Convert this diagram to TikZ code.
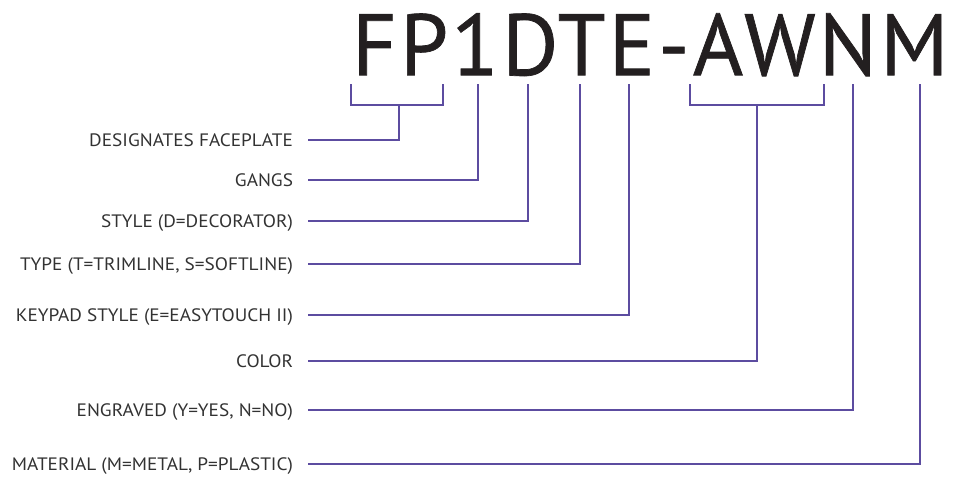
\documentclass[tikz,border=0pt]{standalone}
\usepackage{fontspec}
\setmainfont{PT Sans}
\newfontfamily\bigfont[LetterSpace=4, FakeBold=0.8]{PT Sans}
\newfontfamily\lblfont[FakeStretch=1.07]{PT Sans}
\definecolor{linepurple}{RGB}{92,76,160}
\definecolor{labelgray}{RGB}{50,50,50}
\definecolor{codeblack}{RGB}{35,31,32}
\tikzset{
  lbl/.style={anchor=east, inner sep=0pt, outer xsep=15pt, text=labelgray,
    font=\lblfont\fontsize{18}{20}\selectfont, text height=12.6pt, text depth=0pt},
  conn/.style={draw=linepurple, line width=1.7pt},
}
\begin{document}
\begin{tikzpicture}[x=1pt,y=-1pt]
\useasboundingbox (0,0) rectangle (953,477);
% code
\node[anchor=north west, inner sep=0pt, text=codeblack] (code) at (352,13)
  {\resizebox{596pt}{62pt}{\bigfont FP1DTE-AWNM}};
% labels
\node[lbl] (l1) at (308,140) {DESIGNATES FACEPLATE};
\node[lbl] (l2) at (308,180) {GANGS};
\node[lbl] (l3) at (308,221) {STYLE (D=DECORATOR)};
\node[lbl] (l4) at (308,264) {TYPE (T=TRIMLINE, S=SOFTLINE)};
\node[lbl] (l5) at (308,315) {KEYPAD STYLE (E=EASYTOUCH II)};
\node[lbl] (l6) at (308,361) {COLOR};
\node[lbl] (l7) at (308,410) {ENGRAVED (Y=YES, N=NO)};
\node[lbl] (l8) at (308,464) {MATERIAL (M=METAL, P=PLASTIC)};
% tick tops
\coordinate (tF) at (351,84);
\coordinate (tP) at (443,84);
\coordinate (m1) at (399,105);
\coordinate (t1) at (478,84);
\coordinate (tD) at (528,84);
\coordinate (tT) at (580,84);
\coordinate (tE) at (629,84);
\coordinate (tA) at (690,84);
\coordinate (tW) at (824,84);
\coordinate (m2) at (757,105);
\coordinate (tN) at (853,84);
\coordinate (tM) at (920,84);
% connectors
\draw[conn] (tF) |- (tP |- m1) -- (tP);
\draw[conn] (m1) |- (l1.east);
\draw[conn] (t1) |- (l2.east);
\draw[conn] (tD) |- (l3.east);
\draw[conn] (tT) |- (l4.east);
\draw[conn] (tE) |- (l5.east);
\draw[conn] (tA) |- (tW |- m2) -- (tW);
\draw[conn] (m2) |- (l6.east);
\draw[conn] (tN) |- (l7.east);
\draw[conn] (tM) |- (l8.east);
\end{tikzpicture}
\end{document}
